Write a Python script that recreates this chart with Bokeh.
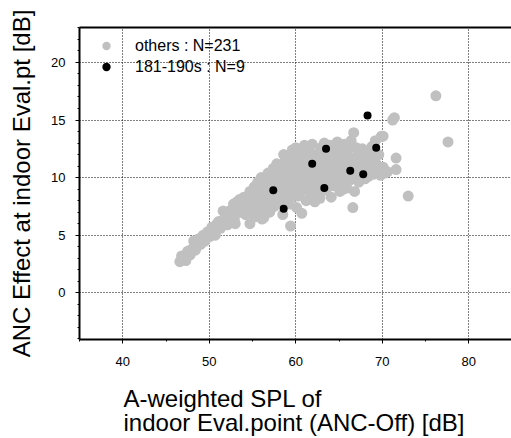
from bokeh.plotting import figure
from bokeh.models import Range1d, SingleIntervalTicker, LinearAxis, FixedTicker, Title
from bokeh.embed import file_html
from bokeh.resources import INLINE

# ---- data ----
others_x = [
    46.6, 46.8, 47.0, 47.3, 47.5, 47.8, 48.0, 48.2, 48.4, 48.6,
    48.8, 49.0, 49.3, 49.5, 49.8, 50.1, 50.3, 50.5, 50.7, 50.9,
    51.1, 51.3, 51.6, 51.6, 51.9, 52.1, 52.3, 52.5, 52.8, 52.9,
    53.2, 53.2, 53.4, 53.5, 53.0,
    53.8, 54.0, 54.2, 54.3, 54.5, 54.7, 54.7, 54.9, 55.1, 55.2,
    55.3, 55.5, 55.6, 55.8, 55.9, 56.0, 56.1, 56.3, 56.3, 56.4,
    56.6, 56.7, 56.8, 56.9, 57.0, 57.1, 57.2, 57.4, 57.5, 57.5,
    57.7, 57.8, 57.9, 58.0, 58.1, 58.2, 58.3, 58.4, 58.5, 58.6,
    58.7, 58.8, 58.9, 59.0, 59.1, 59.2, 59.3, 59.4, 59.5, 59.5,
    59.6, 59.7, 59.8, 59.9, 60.0, 60.0, 60.1, 60.2, 60.3, 60.4,
    60.5, 60.6, 60.7, 60.8, 60.9, 61.0, 61.1, 61.2, 61.3, 61.4,
    61.5, 61.6, 61.7, 61.8, 61.9, 62.0, 62.1, 62.2, 62.3, 62.4,
    62.5, 62.6, 62.7, 62.8, 62.9, 63.0, 63.1, 63.2, 63.3, 63.4,
    63.5, 63.6, 63.7, 63.8, 63.9, 64.0, 64.1, 64.2, 64.3, 64.4,
    64.5, 64.6, 64.7, 64.8, 64.9, 65.0, 65.1, 65.2, 65.3, 65.4,
    65.5, 65.6, 65.7, 65.8, 65.9, 66.0, 66.1, 66.2, 66.3, 66.4,
    66.5, 66.6, 66.7, 66.8, 66.9, 67.0, 67.1, 67.2, 67.3, 67.4,
    67.5, 67.6, 67.7, 67.8, 67.9, 68.0, 68.1, 68.2, 68.3, 68.4,
    68.5, 68.6, 68.7, 68.8, 68.9, 69.0, 69.2, 69.3, 69.5, 69.6,
    69.8, 69.9, 70.1, 70.3, 70.6, 70.1, 71.6, 71.6, 71.4, 71.2,
    73.0, 76.2, 77.6,
    56.2, 57.3, 58.0, 58.9, 59.4, 60.5, 61.0, 61.6, 62.4, 62.9,
    63.6, 64.2, 64.9, 65.6, 66.3, 67.0, 60.3, 61.5, 59.0, 57.8,
    55.0, 54.1, 63.0, 64.0, 65.0, 62.0, 61.2, 60.1, 59.3, 58.3,
    66.0, 63.5, 65.5,
]
others_y = [
    2.7, 3.2, 3.1, 2.8, 3.6, 3.3, 3.8, 4.5, 3.7, 4.1,
    4.7, 4.2, 5.0, 4.5, 5.3, 4.9, 5.7, 5.4, 5.0, 6.0,
    6.2, 5.6, 6.3, 7.1, 6.8, 5.9, 7.1, 6.6, 7.7, 6.3,
    6.9, 7.9, 7.2, 8.1, 6.0,
    7.4, 8.3, 6.8, 8.0, 7.5, 6.0, 8.8, 7.1, 8.4, 9.2,
    6.6, 7.8, 9.6, 8.6, 7.2, 10.0, 6.4, 6.5, 8.1, 9.1,
    9.5, 7.6, 10.4, 8.7, 7.0, 9.9, 8.2, 10.8, 7.5, 9.3,
    8.8, 11.2, 10.1, 7.9, 9.6, 8.5, 11.0, 10.5, 6.8, 12.0,
    9.0, 11.5, 8.2, 10.2, 9.4, 11.9, 7.7, 5.8, 8.9, 10.8,
    12.4, 9.7, 11.3, 8.4, 10.4, 12.6, 7.4, 9.2, 11.7, 10.0,
    8.7, 12.2, 6.9, 11.0, 9.5, 12.8, 10.6, 8.0, 11.4, 9.9,
    12.3, 10.9, 8.6, 9.6, 12.9, 11.5, 10.2, 7.9, 12.0, 9.1,
    10.8, 11.8, 8.5, 8.2, 12.6, 10.3, 11.2, 9.6, 13.0, 10.7,
    8.9, 12.2, 11.6, 9.9, 10.4, 12.8, 8.3, 11.0, 9.3, 12.4,
    10.6, 11.7, 9.7, 13.1, 10.1, 12.0, 8.8, 12.6, 11.3, 9.4,
    10.8, 12.9, 10.3, 11.9, 9.1, 12.4, 10.9, 11.5, 9.8, 13.2,
    10.5, 7.4, 13.9, 8.8, 11.8, 12.6, 10.2, 11.1, 9.6, 12.2,
    10.8, 11.6, 12.5, 10.4, 11.9, 9.9, 12.3, 10.7, 11.4, 10.1,
    12.0, 11.6, 10.5, 12.7, 11.0, 10.3, 13.2, 11.2, 10.6, 12.0,
    10.2, 13.6, 10.9, 10.4, 10.5, 13.6, 11.7, 10.7, 15.2, 15.0,
    8.4, 17.1, 13.1,
    8.9, 9.0, 9.2, 10.0, 9.9, 10.5, 10.0, 10.4, 11.2, 10.0,
    10.6, 10.2, 11.2, 10.2, 11.3, 11.0, 8.4, 9.0, 8.0, 8.0,
    7.5, 7.6, 11.6, 11.4, 10.6, 9.6, 11.8, 11.0, 11.0, 10.0,
    10.2, 12.6, 9.0,
]
group_x = [68.3, 69.3, 63.5, 61.9, 66.3, 67.8, 57.4, 63.3, 58.6]
group_y = [15.4, 12.6, 12.5, 11.2, 10.6, 10.3, 8.9, 9.1, 7.3]

others_label = "others : N=231"
group_label = "181-190s : N=9"
x_ticks_interval = 10
y_ticks_interval = 5
x_title_lines = ["A-weighted SPL of", "indoor Eval.point (ANC-Off) [dB]"]
y_title = "ANC Effect at indoor Eval.pt [dB]"

FONT = "Liberation Sans"

p = figure(width=511, height=438, output_backend="svg", toolbar_location=None,
           x_range=Range1d(35, 84.94), y_range=Range1d(-4.05, 23.03),
           min_border_left=79, min_border_right=0, min_border_top=27,
           min_border_bottom=99)
p.outline_line_color = None
p.background_fill_color = "white"
p.border_fill_color = "white"

xt = SingleIntervalTicker(interval=x_ticks_interval, num_minor_ticks=2)
yt = SingleIntervalTicker(interval=y_ticks_interval, num_minor_ticks=5)
p.xaxis.ticker = xt
p.yaxis.ticker = yt
p.xgrid.ticker = xt
p.ygrid.ticker = yt

for g in (p.xgrid[0], p.ygrid[0]):
    g.grid_line_color = "black"
    g.grid_line_dash = "1 2"
    g.grid_line_width = 1

for ax in (p.xaxis[0], p.yaxis[0]):
    ax.axis_line_width = 2
    ax.axis_line_color = "black"
    ax.major_tick_in = 0
    ax.major_tick_out = 4
    ax.minor_tick_in = 0
    ax.minor_tick_out = 2
    ax.major_tick_line_color = "black"
    ax.minor_tick_line_color = "black"
    ax.major_label_text_font = FONT
    ax.major_label_text_font_size = "13px"
    ax.major_label_text_color = "black"

p.xaxis[0].major_label_standoff = 13
p.yaxis[0].major_label_standoff = 10
p.yaxis[0].axis_label = y_title
p.yaxis[0].axis_label_text_font = FONT
p.yaxis[0].axis_label_text_font_size = "24px"
p.yaxis[0].axis_label_text_font_style = "normal"
p.yaxis[0].axis_label_text_color = "black"
p.yaxis[0].axis_label_standoff = 13

top = LinearAxis(ticker=FixedTicker(ticks=[]), major_label_text_font_size="0px",
                 major_tick_line_color=None, minor_tick_line_color=None,
                 axis_line_width=2, axis_line_color="black")
p.add_layout(top, "above")

p.scatter(others_x, others_y, size=11, marker="circle", fill_color="#c0c0c0",
          line_color=None, legend_label=others_label)
p.scatter(group_x, group_y, size=8, marker="circle", fill_color="black",
          line_color=None, legend_label=group_label)

lg = p.legend[0]
lg.location = "top_left"
lg.margin = 8
lg.padding = 4
lg.glyph_width = 38
lg.glyph_height = 21
lg.label_height = 21
lg.spacing = 0
lg.label_standoff = 10
lg.background_fill_alpha = 0
lg.border_line_color = None
lg.label_text_font = FONT
lg.label_text_font_size = "16px"
lg.label_text_color = "black"

for txt, so in zip(x_title_lines, [32, -42]):
    p.add_layout(Title(text=txt, align="left", vertical_align="top", offset=44,
                       standoff=so, text_font=FONT, text_font_size="24px",
                       text_font_style="normal", text_color="black"), "below")

open("out.html", "w").write(file_html(p, INLINE))
